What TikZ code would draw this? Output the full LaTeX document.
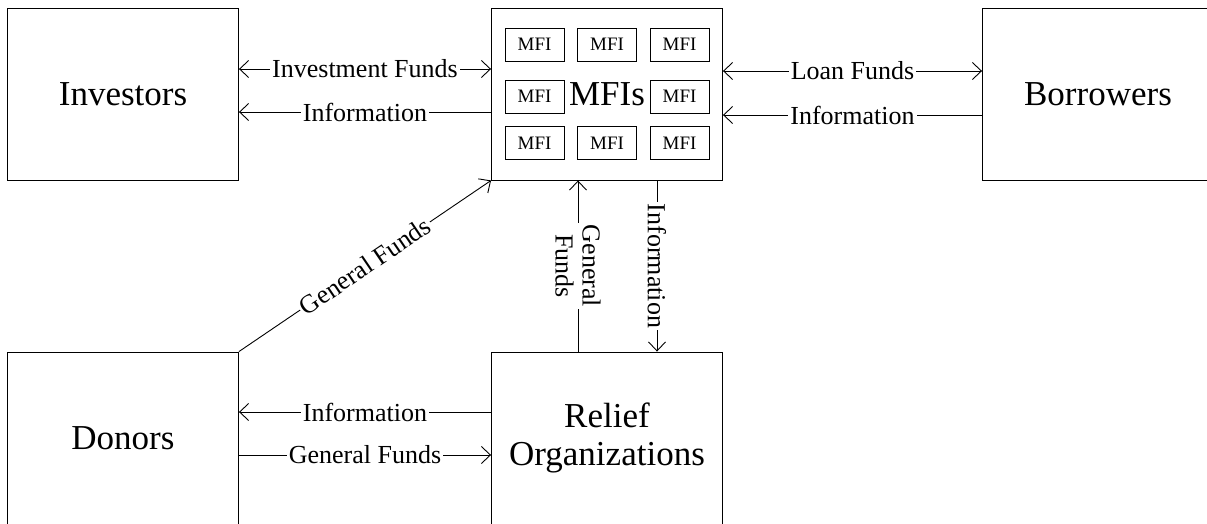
\documentclass[tikz,border=0pt]{standalone}
\usepackage{fontspec}
\setmainfont{Liberation Serif}
\usetikzlibrary{arrows.meta}

\begin{document}
\begin{tikzpicture}[x=1pt,y=-1pt,line width=0.9pt,
  >={Straight Barb[length=9pt,width=17pt]},
  party/.style={draw,minimum width=231pt,minimum height=172pt,align=center,
    font=\fontsize{35}{38}\selectfont},
  mfi/.style={draw,minimum width=59pt,minimum height=33pt,inner sep=0pt,
    font=\fontsize{19}{22}\selectfont},
  lbl/.style={fill=white,inner sep=2pt,font=\fontsize{26}{27}\selectfont}]
\useasboundingbox (0,0) rectangle (1207,523);
\clip (0,0) rectangle (1207,523);
% the parties
\node[party] (inv) at (123,94) {Investors};
\node[party] (mfis) at (607,94) {MFIs};
\node[party] (bor) at (1098,94) {Borrowers};
\node[party] (don) at (123,438) {Donors};
\node[party] (rel) at (607,438) {Relief\\Organizations};
% single MFIs inside the big box
\node[mfi] (m1) at (534.5,44.5) {MFI};
\node[mfi] (m2) at (607,44.5) {MFI};
\node[mfi] (m3) at (679.5,44.5) {MFI};
\node[mfi] (m4) at (534.5,96.5) {MFI};
\node[mfi] (m5) at (679.5,96.5) {MFI};
\node[mfi] (m6) at (534.5,143) {MFI};
\node[mfi] (m7) at (607,143) {MFI};
\node[mfi] (m8) at (679.5,143) {MFI};
% flows between investors and MFIs
\draw[<->] ([yshift=25pt]inv.east) -- node[lbl] {Investment Funds} ([yshift=25pt]inv.east -| mfis.west);
\draw[->] ([yshift=-18pt]inv.east -| mfis.west) -- node[lbl] {Information} ([yshift=-18pt]inv.east);
% flows between MFIs and borrowers
\draw[<->] ([yshift=23pt]mfis.east) -- node[lbl] {Loan Funds} ([yshift=23pt]mfis.east -| bor.west);
\draw[->] ([yshift=-21pt]mfis.east -| bor.west) -- node[lbl] {Information} ([yshift=-21pt]mfis.east);
% donors and relief organizations
\draw[->] (don.north east) -- node[lbl,sloped] {General Funds} (mfis.south west);
\draw[->] ([yshift=26pt]rel.west) -- node[lbl] {Information} ([yshift=26pt]rel.west -| don.east);
\draw[->] ([yshift=-17pt]don.east) -- node[lbl] {General Funds} ([yshift=-17pt]don.east -| rel.west);
\draw[->] ([xshift=-29pt]rel.north) -- node[lbl,rotate=-90,align=center] {General\\Funds} ([xshift=-29pt]rel.north |- mfis.south);
\draw[->] ([xshift=50pt]mfis.south) -- node[lbl,rotate=-90] {Information} ([xshift=50pt]mfis.south |- rel.north);
\end{tikzpicture}
\end{document}
